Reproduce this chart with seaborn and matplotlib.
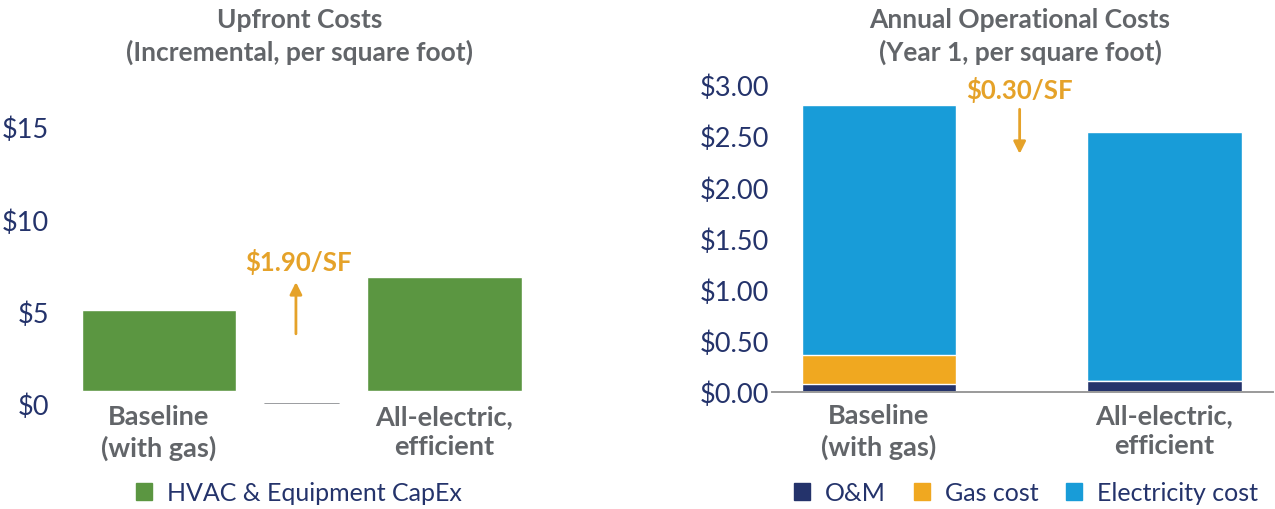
import pandas as pd
import seaborn as sns
import matplotlib.pyplot as plt
from matplotlib.patches import Patch

# data
scenarios = ["Baseline\n(with gas)", "All-electric,\nefficient"]
capex = [5.1, 6.9]
capex_base = [0.7, 0.7]
om_cost = [0.08, 0.11]
gas_cost = [0.28, 0.0]
elec_cost = [2.44, 2.43]
upfront_ticks = [0, 5, 10, 15]
upfront_ticklabels = ["$0", "$5", "$10", "$15"]
annual_ticks = [0, 0.5, 1.0, 1.5, 2.0, 2.5, 3.0]
annual_ticklabels = ["$0.00", "$0.50", "$1.00", "$1.50", "$2.00", "$2.50", "$3.00"]
upfront_delta = "$1.90/SF"
annual_delta = "$0.30/SF"

GREEN = "#5b9641"
NAVY = "#24336b"
GAS = "#f0a820"
ELEC = "#189cd8"
ORANGE = "#e5a229"
GRAY = "#626569"

sns.set_theme(style="white")
plt.rcParams["font.family"] = ["Lato", "DejaVu Sans"]

fig = plt.figure(figsize=(12.75, 5.1), dpi=100)
ax1 = fig.add_axes([52 / 1275, 105 / 510, 501 / 1275, 277 / 510])
ax2 = fig.add_axes([772 / 1275, 117 / 510, 501 / 1275, 307 / 510])

# left: upfront costs
up = pd.DataFrame({"scenario": scenarios, "capex": capex, "base": capex_base})
sns.barplot(data=up, x="scenario", y="capex", color=GREEN, width=0.54,
            saturation=1, ax=ax1)
for patch, b, h in zip(ax1.patches, up["base"], up["capex"]):
    patch.set_y(b)
    patch.set_height(h - b)
ax1.set_ylim(0, 15)
ax1.set_xlim(-0.374, 1.38)
ax1.set_yticks(upfront_ticks)
ax1.set_yticklabels(upfront_ticklabels)
ax1.plot([0.37, 0.63], [0, 0], color="#8a8c90", lw=1.2)
ax1.annotate("", xy=(0.48, 6.75), xytext=(0.48, 3.65),
             arrowprops=dict(arrowstyle="-|>", color=ORANGE, lw=2, mutation_scale=18))
ax1.text(0.49, 7.75, upfront_delta, color=ORANGE, fontsize=18.5, fontweight="bold",
         ha="center", va="center")
ax1.tick_params(axis="x", pad=0)

# right: annual operational costs, stacked
op = pd.DataFrame({"scenario": scenarios, "om": om_cost, "gas": gas_cost, "elec": elec_cost})
op["gas_top"] = op["om"] + op["gas"]
op["elec_top"] = op["gas_top"] + op["elec"]
sns.barplot(data=op, x="scenario", y="elec_top", color=ELEC, width=0.54, saturation=1, ax=ax2)
sns.barplot(data=op, x="scenario", y="gas_top", color=GAS, width=0.54, saturation=1, ax=ax2)
sns.barplot(data=op, x="scenario", y="om", color=NAVY, width=0.54, saturation=1, ax=ax2)
ax2.set_ylim(0, 3.0)
ax2.set_xlim(-0.374, 1.38)
ax2.set_yticks(annual_ticks)
ax2.set_yticklabels(annual_ticklabels)
ax2.annotate("", xy=(0.493, 2.3), xytext=(0.493, 2.79),
             arrowprops=dict(arrowstyle="-|>", color=ORANGE, lw=2, mutation_scale=18))
ax2.text(0.493, 2.96, annual_delta, color=ORANGE, fontsize=18.5, fontweight="bold",
         ha="center", va="center")
ax2.tick_params(axis="x", pad=8)

for ax in (ax1, ax2):
    sns.despine(ax=ax, left=True, bottom=(ax is ax1))
    ax.set_xlabel("")
    ax.set_ylabel("")
    for lab in ax.get_xticklabels():
        lab.set_fontsize(19.5)
        lab.set_fontweight("bold")
        lab.set_color(GRAY)
        lab.set_linespacing(1.3)
    for lab in ax.get_yticklabels():
        lab.set_fontsize(19.5)
        lab.set_fontweight("normal")
        lab.set_color(NAVY)
    ax.tick_params(axis="y", pad=2, length=0)
    ax.tick_params(axis="x", length=0)
ax2.spines["bottom"].set_color("#9a9a9a")
ax2.spines["bottom"].set_linewidth(1.4)

title_kw = dict(ha="center", va="center", fontsize=19, fontweight="bold", color=GRAY)
fig.text(300 / 1275, 1 - 20 / 510, "Upfront Costs", **title_kw)
fig.text(300 / 1275, 1 - 52 / 510, "(Incremental, per square foot)", **title_kw)
fig.text(1020 / 1275, 1 - 20 / 510, "Annual Operational Costs", **title_kw)
fig.text(1020 / 1275, 1 - 52 / 510, "(Year 1, per square foot)", **title_kw)

leg_kw = dict(loc="center", frameon=False, handlelength=0.65, handleheight=0.65,
              handletextpad=0.6, columnspacing=1.1, bbox_transform=fig.transFigure,
              prop={"size": 18, "weight": "normal"})
leg1 = fig.legend(handles=[Patch(color=GREEN, label="HVAC & Equipment CapEx")],
                  bbox_to_anchor=(299 / 1275, 1 - 494 / 510), **leg_kw)
leg2 = fig.legend(handles=[Patch(color=NAVY, label="O&M"), Patch(color=GAS, label="Gas cost"),
                           Patch(color=ELEC, label="Electricity cost")],
                  ncol=3, bbox_to_anchor=(1026 / 1275, 1 - 494 / 510), **leg_kw)
for leg in (leg1, leg2):
    for t in leg.get_texts():
        t.set_color(NAVY)

fig.savefig("out.png", dpi=100)
